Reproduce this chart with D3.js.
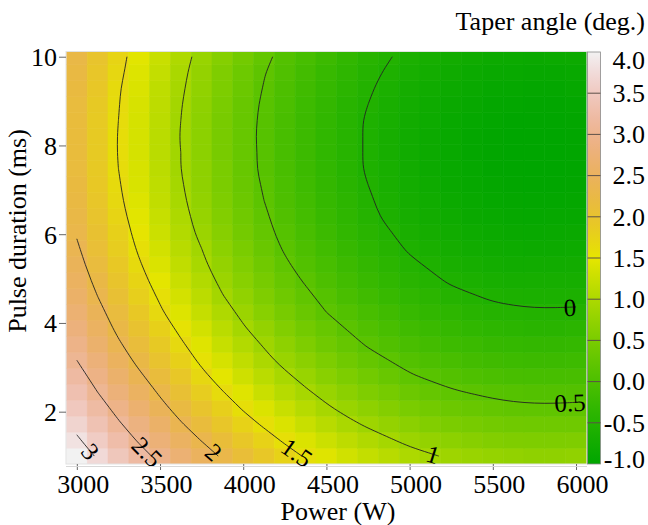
<!DOCTYPE html>
<html lang="en">
<head>
<meta charset="UTF-8">
<title>Taper angle</title>
<script src="https://cdn.jsdelivr.net/npm/d3@7/dist/d3.min.js"></script>
<style>
    body { margin: 0; background: #fff; }
    svg text { font-family: "Liberation Serif", "Times New Roman", serif; fill: #000; }
</style>
</head>
<body>
<svg id="main" width="648" height="525"></svg>
<script>
    // grid of the response surface: columns = power (W), rows = pulse duration (ms)
    const power = [3000, 3125, 3250, 3375, 3500, 3625, 3750, 3875, 4000, 4125, 4250, 4375, 4500,
        4625, 4750, 4875, 5000, 5125, 5250, 5375, 5500, 5625, 5750, 5875, 6000];
    const pulse = [1.00, 1.36, 1.72, 2.08, 2.44, 2.80, 3.16, 3.52, 3.88, 4.24, 4.60, 4.96, 5.32,
        5.68, 6.04, 6.40, 6.76, 7.12, 7.48, 7.84, 8.20, 8.56, 8.92, 9.28, 9.64, 10.00];
    const taper = [
        [3.16,2.97,2.78,2.60,2.43,2.27,2.12,1.97,1.84,1.71,1.59,1.48,1.38,1.29,1.21,1.14,1.07,1.02,0.97,0.94,0.91,0.89,0.87,0.87,0.88],
        [3.04,2.84,2.65,2.47,2.30,2.14,1.99,1.85,1.71,1.59,1.47,1.36,1.26,1.17,1.09,1.02,0.95,0.90,0.85,0.81,0.78,0.76,0.75,0.75,0.76],
        [2.92,2.72,2.53,2.36,2.19,2.02,1.87,1.73,1.59,1.47,1.35,1.24,1.14,1.05,0.97,0.90,0.84,0.78,0.73,0.70,0.67,0.65,0.64,0.64,0.64],
        [2.80,2.61,2.42,2.24,2.07,1.91,1.76,1.62,1.48,1.36,1.24,1.13,1.03,0.94,0.86,0.79,0.72,0.67,0.62,0.59,0.56,0.54,0.53,0.53,0.54],
        [2.70,2.50,2.31,2.14,1.97,1.81,1.65,1.51,1.38,1.25,1.13,1.03,0.93,0.84,0.76,0.69,0.62,0.57,0.52,0.49,0.46,0.44,0.43,0.43,0.43],
        [2.60,2.40,2.21,2.04,1.87,1.71,1.55,1.41,1.28,1.15,1.04,0.93,0.83,0.74,0.66,0.59,0.52,0.47,0.43,0.39,0.36,0.34,0.33,0.33,0.34],
        [2.50,2.31,2.12,1.94,1.77,1.61,1.46,1.32,1.19,1.06,0.94,0.84,0.74,0.65,0.57,0.50,0.43,0.38,0.34,0.30,0.27,0.25,0.24,0.24,0.25],
        [2.42,2.22,2.03,1.86,1.69,1.53,1.38,1.23,1.10,0.98,0.86,0.75,0.65,0.57,0.48,0.41,0.35,0.30,0.25,0.22,0.19,0.17,0.16,0.16,0.17],
        [2.33,2.14,1.95,1.78,1.61,1.45,1.30,1.15,1.02,0.90,0.78,0.67,0.58,0.49,0.41,0.34,0.27,0.22,0.18,0.14,0.11,0.09,0.08,0.08,0.09],
        [2.26,2.07,1.88,1.70,1.53,1.37,1.22,1.08,0.95,0.82,0.71,0.60,0.50,0.42,0.34,0.27,0.20,0.15,0.11,0.07,0.04,0.03,0.02,0.02,0.02],
        [2.19,2.00,1.81,1.63,1.47,1.31,1.16,1.01,0.88,0.76,0.64,0.54,0.44,0.35,0.27,0.20,0.14,0.09,0.04,0.01,-0.02,-0.04,-0.05,-0.05,-0.04],
        [2.13,1.94,1.75,1.57,1.41,1.25,1.10,0.95,0.82,0.70,0.58,0.48,0.38,0.29,0.21,0.14,0.08,0.03,-0.02,-0.05,-0.08,-0.10,-0.10,-0.10,-0.10],
        [2.08,1.88,1.70,1.52,1.35,1.19,1.04,0.90,0.77,0.65,0.53,0.42,0.33,0.24,0.16,0.09,0.03,-0.02,-0.07,-0.10,-0.13,-0.15,-0.15,-0.15,-0.14],
        [2.03,1.83,1.65,1.47,1.30,1.14,1.00,0.85,0.72,0.60,0.48,0.38,0.28,0.19,0.11,0.05,-0.02,-0.07,-0.11,-0.15,-0.17,-0.19,-0.20,-0.20,-0.19],
        [1.98,1.79,1.61,1.43,1.26,1.10,0.95,0.81,0.68,0.56,0.44,0.34,0.24,0.15,0.08,0.01,-0.06,-0.11,-0.15,-0.19,-0.21,-0.23,-0.24,-0.23,-0.22],
        [1.95,1.76,1.57,1.40,1.23,1.07,0.92,0.78,0.65,0.53,0.41,0.31,0.21,0.12,0.04,-0.03,-0.09,-0.14,-0.18,-0.22,-0.24,-0.26,-0.27,-0.26,-0.26],
        [1.92,1.73,1.54,1.37,1.20,1.04,0.89,0.75,0.62,0.50,0.38,0.28,0.18,0.10,0.02,-0.05,-0.11,-0.16,-0.21,-0.24,-0.27,-0.28,-0.29,-0.29,-0.28],
        [1.90,1.70,1.52,1.34,1.18,1.02,0.87,0.73,0.60,0.48,0.36,0.26,0.16,0.08,0.00,-0.07,-0.13,-0.18,-0.23,-0.26,-0.28,-0.30,-0.31,-0.31,-0.30],
        [1.88,1.69,1.50,1.33,1.16,1.00,0.86,0.72,0.58,0.46,0.35,0.24,0.15,0.06,-0.02,-0.08,-0.14,-0.20,-0.24,-0.27,-0.30,-0.31,-0.32,-0.32,-0.31],
        [1.87,1.68,1.49,1.32,1.15,1.00,0.85,0.71,0.58,0.46,0.34,0.24,0.14,0.06,-0.02,-0.09,-0.15,-0.20,-0.24,-0.28,-0.30,-0.32,-0.32,-0.32,-0.31],
        [1.87,1.68,1.49,1.32,1.15,0.99,0.85,0.71,0.58,0.45,0.34,0.24,0.14,0.06,-0.02,-0.09,-0.15,-0.20,-0.24,-0.28,-0.30,-0.32,-0.32,-0.32,-0.31],
        [1.87,1.68,1.50,1.32,1.16,1.00,0.85,0.71,0.58,0.46,0.35,0.24,0.15,0.06,-0.02,-0.08,-0.14,-0.19,-0.24,-0.27,-0.29,-0.31,-0.31,-0.31,-0.30],
        [1.88,1.69,1.51,1.33,1.17,1.01,0.86,0.72,0.59,0.47,0.36,0.25,0.16,0.07,0.00,-0.07,-0.13,-0.18,-0.22,-0.25,-0.28,-0.29,-0.30,-0.30,-0.29],
        [1.90,1.71,1.52,1.35,1.18,1.03,0.88,0.74,0.61,0.49,0.38,0.27,0.18,0.09,0.02,-0.05,-0.11,-0.16,-0.20,-0.23,-0.26,-0.27,-0.28,-0.28,-0.26],
        [1.92,1.73,1.55,1.37,1.21,1.05,0.90,0.76,0.63,0.51,0.40,0.30,0.20,0.12,0.04,-0.02,-0.08,-0.13,-0.17,-0.21,-0.23,-0.24,-0.25,-0.25,-0.24],
        [1.95,1.76,1.57,1.40,1.24,1.08,0.93,0.80,0.67,0.55,0.43,0.33,0.24,0.15,0.07,0.01,-0.05,-0.10,-0.14,-0.17,-0.20,-0.21,-0.22,-0.21,-0.20]
    ];
    const contourLevels = [0, 0.5, 1, 1.5, 2, 2.5, 3];
    const powerTicks = [3000, 3500, 4000, 4500, 5000, 5500, 6000];
    const pulseTicks = [2, 4, 6, 8, 10];
    const legendTicks = [4.0, 3.5, 3.0, 2.5, 2.0, 1.5, 1.0, 0.5, 0.0, -0.5, -1.0];
    const legendRange = [-1, 4];

    const plot = {left: 66, right: 587, top: 52, bottom: 464};
    const fontSize = 26;
    const svg = d3.select("svg#main");

    // R terrain.colors, continuous version (t in 0..1)
    function hsv(h, s, v) {
        const f = n => {
            const k = (n + h / 60) % 6;
            return v - v * s * Math.max(0, Math.min(k, 4 - k, 1));
        };
        return d3.rgb(255 * f(5), 255 * f(3), 255 * f(1)).formatHex();
    }
    function terrain(t) {
        const s = Math.max(0, Math.min(1, t));
        if (s <= 0.5) {
            const f = s / 0.5;
            return hsv(120 - 60 * f, 1, 0.65 + 0.25 * f);
        }
        const f = (s - 0.5) / 0.5;
        return hsv(60 - 60 * f, 1 - f, 0.9 + 0.05 * f);
    }
    // the image is coloured over the range of the data, the key is labelled -1..4
    const cellColor = d3.scaleLinear().domain(d3.extent(taper.flat())).range([0, 1]);

    const x = d3.scaleLinear().domain([2935, 6066]).range([plot.left, plot.right]);
    const y = d3.scaleLinear().domain([0.821, 10.106]).range([plot.bottom, plot.top]);
    const dP = power[1] - power[0], dT = pulse[1] - pulse[0];
    const nx = power.length, ny = pulse.length;

    svg.append("defs").append("clipPath").attr("id", "plotClip")
        .append("rect")
        .attr("x", plot.left).attr("y", plot.top)
        .attr("width", plot.right - plot.left).attr("height", plot.bottom - plot.top);

    // heatmap cells
    const cells = [];
    taper.forEach((row, j) => row.forEach((v, i) => cells.push({p: power[i], t: pulse[j], v: v})));

    svg.append("g").attr("clip-path", "url(#plotClip)")
        .selectAll("rect")
        .data(cells)
        .join("rect")
        .attr("x", d => x(d.p - dP / 2))
        .attr("width", d => x(d.p + dP / 2) - x(d.p - dP / 2))
        .attr("y", d => y(d.t + dT / 2))
        .attr("height", d => y(d.t - dT / 2) - y(d.t + dT / 2))
        .attr("fill", d => terrain(cellColor(d.v)))
        .attr("stroke", d => terrain(cellColor(d.v)))
        .attr("stroke-width", 0.6);

    // frame
    svg.append("rect")
        .attr("x", plot.left).attr("y", plot.top - 0.5)
        .attr("width", plot.right - plot.left).attr("height", plot.bottom - plot.top + 0.5)
        .attr("fill", "none").attr("stroke", "#e2e2e2").attr("stroke-width", 1);

    // contour lines: drop the segments d3.contours adds along the grid border
    const contours = d3.contours().size([nx, ny]).thresholds(contourLevels)(taper.flat());
    const onEdge = pt => pt[0] <= 0 || pt[0] >= nx || pt[1] <= 0 || pt[1] >= ny;
    const toPx = pt => [
        x(power[0] + (Math.max(0.5, Math.min(nx - 0.5, pt[0])) - 0.5) * dP),
        y(pulse[0] + (Math.max(0.5, Math.min(ny - 0.5, pt[1])) - 0.5) * dT)
    ];

    function ringLines(ring) {
        let pts = ring.slice();
        const a = pts[0], b = pts[pts.length - 1];
        if (a[0] === b[0] && a[1] === b[1]) pts.pop();
        const n = pts.length;
        const start = pts.findIndex(onEdge);
        if (start < 0) return [pts.concat([pts[0]])];
        const lines = [];
        let cur = null;
        for (let k = 0; k <= n; k++) {
            const pt = pts[(start + k) % n];
            if (onEdge(pt)) {
                if (cur && cur.length > 1) lines.push(cur);
                cur = null;
            } else {
                if (!cur) cur = [];
                cur.push(pt);
            }
        }
        if (cur && cur.length > 1) lines.push(cur);
        return lines;
    }

    const isoLines = [];
    contours.forEach(c => {
        c.coordinates.forEach(poly => poly.forEach(ring => {
            ringLines(ring).forEach(line => isoLines.push({level: c.value, pts: line.map(toPx)}));
        }));
    });

    const lineGen = d3.line().curve(d3.curveBasis);
    svg.append("g").attr("clip-path", "url(#plotClip)")
        .selectAll("path")
        .data(isoLines)
        .join("path")
        .attr("d", d => lineGen(d.pts))
        .attr("fill", "none")
        .attr("stroke", "#222")
        .attr("stroke-width", 0.9);

    // one label per level, at the lower / right end of the longest piece
    const labelData = [];
    contourLevels.forEach(level => {
        const pieces = isoLines.filter(d => d.level === level);
        if (!pieces.length) return;
        const line = pieces.reduce((m, d) => d.pts.length > m.pts.length ? d : m);
        let pts = line.pts.slice();
        const first = pts[0], last = pts[pts.length - 1];
        if (first[0] + first[1] > last[0] + last[1]) pts.reverse();
        const end = pts[pts.length - 1];
        let k = pts.length - 2;
        while (k > 0 && Math.hypot(end[0] - pts[k][0], end[1] - pts[k][1]) < 14) k--;
        const prev = pts[k];
        let ang = Math.atan2(end[1] - prev[1], end[0] - prev[0]) * 180 / Math.PI;
        if (ang > 90) ang -= 180;
        if (ang < -90) ang += 180;
        const len = Math.hypot(end[0] - prev[0], end[1] - prev[1]) || 1;
        const back = 6;
        labelData.push({
            text: String(level),
            x: end[0] - (end[0] - prev[0]) / len * back,
            y: end[1] - (end[1] - prev[1]) / len * back,
            angle: ang
        });
    });

    svg.append("g").selectAll("text")
        .data(labelData)
        .join("text")
        .attr("transform", d => `translate(${d.x},${d.y}) rotate(${d.angle})`)
        .attr("text-anchor", "middle")
        .attr("dy", "0.35em")
        .attr("font-size", 25)
        .text(d => d.text);

    // axes
    const xAxisGroup = svg.append("g")
        .attr("transform", `translate(0,${plot.bottom})`)
        .call(d3.axisBottom(x).tickValues(powerTicks).tickFormat(d3.format("d"))
            .tickSize(6).tickSizeOuter(0));
    xAxisGroup.select(".domain").remove();
    xAxisGroup.selectAll(".tick line").attr("stroke", "#666");
    xAxisGroup.selectAll(".tick text")
        .attr("y", 29).attr("dy", 0).attr("dx", 6)
        .attr("font-size", fontSize)
        .attr("font-family", "Liberation Serif");
    svg.append("line")
        .attr("x1", plot.left).attr("x2", plot.right)
        .attr("y1", plot.bottom + 2.5).attr("y2", plot.bottom + 2.5)
        .attr("stroke", "#d8d8d8");

    const yAxisGroup = svg.append("g")
        .attr("transform", `translate(${plot.left},0)`)
        .call(d3.axisLeft(y).tickValues(pulseTicks).tickSize(7).tickSizeOuter(0).tickPadding(2));
    yAxisGroup.select(".domain").remove();
    yAxisGroup.selectAll(".tick line").attr("stroke", "#666");
    yAxisGroup.selectAll(".tick text")
        .attr("dy", "0.34em")
        .attr("font-size", fontSize)
        .attr("font-family", "Liberation Serif");

    svg.append("text")
        .attr("x", 338).attr("y", 520)
        .attr("text-anchor", "middle")
        .attr("font-size", fontSize)
        .text("Power (W)");

    svg.append("text")
        .attr("transform", "translate(26,231) rotate(-90)")
        .attr("text-anchor", "middle")
        .attr("font-size", fontSize)
        .text("Pulse duration (ms)");

    // colour bar
    const cb = {left: 587.5, width: 13};
    const cbScale = d3.scaleLinear().domain(legendRange).range([plot.bottom, plot.top]);
    const grad = svg.select("defs").append("linearGradient")
        .attr("id", "cbGrad").attr("x1", 0).attr("x2", 0).attr("y1", 1).attr("y2", 0);
    grad.selectAll("stop")
        .data(d3.range(0, 1.0001, 0.02))
        .join("stop")
        .attr("offset", d => d)
        .attr("stop-color", d => terrain(d));

    svg.append("rect")
        .attr("x", cb.left).attr("y", plot.top)
        .attr("width", cb.width).attr("height", plot.bottom - plot.top)
        .attr("fill", "url(#cbGrad)")
        .attr("stroke", "#8a8a8a").attr("stroke-width", 0.8);

    svg.append("g").selectAll("line")
        .data(legendTicks.slice(1, -1))
        .join("line")
        .attr("x1", cb.left).attr("x2", cb.left + cb.width)
        .attr("y1", d => cbScale(d)).attr("y2", d => cbScale(d))
        .attr("stroke", "#5c5048").attr("stroke-width", 1);

    svg.append("g").selectAll("text")
        .data(legendTicks)
        .join("text")
        .attr("x", 645)
        .attr("y", d => Math.max(60.5, Math.min(459, cbScale(d))))
        .attr("dy", "0.34em")
        .attr("text-anchor", "end")
        .attr("font-size", fontSize)
        .text(d => d.toFixed(1));

    svg.append("text")
        .attr("x", 645).attr("y", 30)
        .attr("text-anchor", "end")
        .attr("font-size", fontSize)
        .text("Taper angle (deg.)");
</script>
</body>
</html>
